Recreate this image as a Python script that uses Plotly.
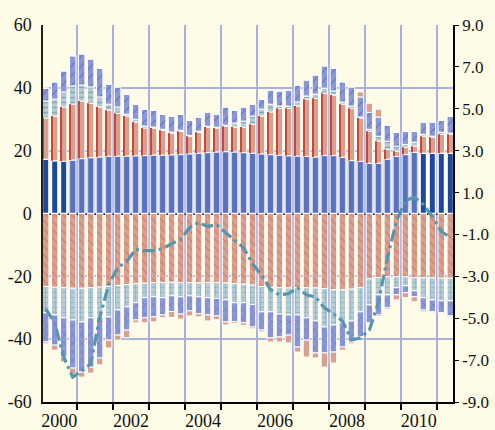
import plotly.graph_objects as go

# quarterly categories, 2000Q1 .. 2011Q2
quarters = [f"{y}Q{q}" for y in range(2000, 2012) for q in range(1, 5)][:46]
year_labels = ["2000", "2002", "2004", "2006", "2008", "2010"]
left_vals = [60, 40, 20, 0, -20, -40, -60]
left_text = ["60", "40", "20", "0", "-20", "-40", "-60"]
right_vals = [9, 7, 5, 3, 1, -1, -3, -5, -7, -9]
right_text = ["9.0", "7.0", "5.0", "3.0", "1.0", "-1.0", "-3.0", "-5.0", "-7.0", "-9.0"]

# positive contributions (left axis)
pos_blue = [17.3, 16.8, 16.6, 17.0, 17.5, 17.8, 18.0, 18.2, 18.3, 18.3, 18.4, 18.5,
            18.6, 18.6, 18.7, 18.8, 19.0, 19.2, 19.4, 19.6, 19.7, 19.6, 19.4, 19.2,
            19.0, 18.8, 18.6, 18.4, 18.3, 18.2, 18.0, 18.5, 18.5, 17.9, 16.9, 16.6,
            16.0, 16.0, 17.3, 18.2, 18.8, 19.5, 19.2, 19.2, 19.2, 19.2]
pos_salmon = [13.1, 14.2, 17.3, 17.8, 18.3, 17.3, 15.9, 14.7, 13.6, 12.7, 10.7, 8.7,
              8.6, 7.9, 6.9, 7.4, 5.6, 6.7, 8.1, 7.6, 8.1, 7.9, 8.1, 9.2,
              12.0, 13.5, 14.9, 15.1, 15.9, 18.2, 18.7, 19.8, 19.2, 16.9, 16.6, 13.8,
              10.2, 7.0, 3.1, 1.6, 2.3, 1.9, 5.4, 5.1, 6.0, 6.0]
pos_teal = [5.4, 5.4, 4.8, 5.8, 5.1, 5.2, 3.2, 1.9, 2.0, 0.6, 0.9, 0.6,
            0.3, 0.3, 0.3, 0.3, 0.3, 0.3, 0.3, 0.3, 0.3, 1.3, 1.9, 2.6,
            2.2, 2.5, 0.7, 0.7, 1.3, 1.0, 1.3, 1.6, 1.3, 0.7, 0.7, 0.3,
            0.6, 1.6, 2.6, 1.6, 0.9, 1.3, 0.6, 0.3, 0.7, 0.4]
pos_lav = [4.1, 5.5, 6.7, 9.6, 9.9, 8.9, 9.2, 6.4, 6.4, 6.4, 4.8, 5.4,
           5.4, 4.8, 5.1, 5.1, 4.8, 4.5, 4.5, 4.1, 5.8, 4.1, 4.5, 3.8,
           3.2, 4.5, 4.8, 5.1, 5.4, 5.1, 6.1, 7.1, 7.3, 6.4, 6.1, 6.4,
           5.4, 6.1, 5.1, 4.5, 4.2, 3.5, 3.9, 4.5, 3.8, 5.4]
pos_extra = [0, 0, 0, 0, 0, 0, 0, 0, 0, 0, 0, 0,
             0, 0, 0, 0, 0, 0, 0, 0, 0, 0, 0, 0,
             0, 0, 0, 0, 0, 0, 0, 0, 0, 0, 0, 1.6,
             2.9, 2.5, 0, 0, 0, 0, 0, 0, 0, 0]

# negative contributions (left axis)
neg_salmon = [-23.3, -23.5, -23.6, -23.8, -23.8, -23.6, -23.4, -23.2, -22.9, -22.6, -22.4, -22.2,
              -22.0, -22.0, -21.9, -22.0, -22.0, -22.1, -22.0, -22.0, -22.1, -22.3, -22.5, -22.8,
              -23.3, -23.5, -23.6, -23.7, -23.6, -23.6, -23.7, -23.9, -24.3, -24.3, -24.1, -23.6,
              -20.8, -20.4, -20.2, -20.2, -20.2, -20.4, -20.5, -20.5, -20.6, -20.6]
neg_teal = [-8.3, -8.8, -9.6, -10.1, -10.7, -9.6, -9.5, -9.7, -7.8, -7.1, -6.0, -4.6,
            -4.5, -4.8, -4.3, -4.5, -4.2, -4.4, -4.8, -5.0, -5.4, -6.1, -5.9, -6.2,
            -8.0, -7.8, -8.4, -8.6, -8.7, -9.6, -10.5, -12.2, -11.2, -10.5, -10.1, -7.7,
            -8.3, -5.5, -5.7, -3.4, -2.8, -4.2, -6.3, -7.0, -7.2, -7.2]
neg_lav = [-9.3, -9.6, -12.5, -15.3, -16.0, -15.7, -13.1, -7.4, -8.0, -7.4, -5.5, -6.4,
           -6.4, -5.5, -5.0, -5.5, -4.8, -5.4, -5.5, -5.6, -7.0, -6.1, -6.4, -7.1,
           -5.8, -8.3, -7.3, -6.4, -10.2, -7.1, -10.2, -8.3, -8.6, -7.7, -6.7, -8.0,
           -5.7, -6.4, -4.1, -2.3, -2.2, -1.9, -3.9, -3.8, -3.8, -4.8]
neg_extra = [-0.6, -1.6, -1.6, -1.9, -1.6, -1.9, -2.2, -2.5, -1.6, -2.5, -0.9, -1.6,
             -1.6, -0.9, -1.9, -1.6, -1.6, -1.0, -1.9, -1.2, -1.0, -0.5, -0.8, -0.6,
             -0.6, -1.3, -1.6, -2.5, -1.6, -5.4, -1.6, -4.5, -3.5, -1.0, -0.6, -0.3,
             -0.3, -0.5, -0.5, -1.6, -1.6, -1.6, -0.6, -0.3, -0.3, -0.3]

# dash-dot line (right axis)
line_vals = [-4.55, -5.22, -6.85, -7.81, -7.52, -7.19, -4.98, -3.40, -2.59, -2.30, -1.72, -1.77,
             -1.77, -1.68, -1.44, -1.25, -0.67, -0.43, -0.62, -0.53, -0.91, -1.25, -1.63, -2.40,
             -2.92, -3.64, -3.88, -3.83, -3.55, -3.88, -3.98, -4.50, -4.79, -5.13, -6.04, -5.94,
             -5.56, -4.26, -2.11, -0.38, 0.62, 0.77, 0.43, -0.14, -0.86, -1.15]

BG = "#FEFCE6"
GRID = "#A9B0DC"
BLUE = "#1C48A2"
BLUR = "#5A72BD"
SALMON = "#D9A18D"
RED = "#C4493A"
TEAL = "#B6CBD4"
TEAL_FG = "#4A8CA0"
LAV = "#8C98D6"
LAV_FG = "#2C4EB8"
LINE = "#5796AB"

x = list(range(len(quarters)))
n = len(x)
blue_colors = [BLUE if (i < 3 or i > 41) else BLUR for i in x]
blue_lines = ["white" if (i < 3 or i > 41) else "#CBD3F0" for i in x]
white = dict(color="white", width=1)

fig = go.Figure()

fig.add_trace(go.Bar(x=x, y=pos_blue, marker=dict(color=blue_colors,
                     line=dict(color=blue_lines, width=1.5))))
fig.add_trace(go.Bar(x=x, y=pos_salmon, marker=dict(color=SALMON, line=white)))
fig.add_trace(go.Bar(x=x, y=pos_teal, marker=dict(
    color=TEAL, line=white,
    pattern=dict(shape="-", fgcolor=TEAL_FG, size=5, solidity=0.3, fillmode="overlay"))))
fig.add_trace(go.Bar(x=x, y=pos_lav, marker=dict(
    color=LAV, line=white,
    pattern=dict(shape="/", fgcolor=LAV_FG, size=7, solidity=0.15, fillmode="overlay"))))
fig.add_trace(go.Bar(x=x, y=pos_extra, marker=dict(color=SALMON, line=white)))

fig.add_trace(go.Bar(x=x, y=neg_salmon, marker=dict(
    color=SALMON, line=white,
    pattern=dict(shape="\\", fgcolor="#D2574C", size=6, solidity=0.2, fillmode="overlay"))))
fig.add_trace(go.Bar(x=x, y=neg_teal, marker=dict(
    color=TEAL, line=white,
    pattern=dict(shape="+", fgcolor=TEAL_FG, size=5, solidity=0.2, fillmode="overlay"))))
fig.add_trace(go.Bar(x=x, y=neg_lav, marker=dict(
    color=LAV, line=white,
    pattern=dict(shape="x", fgcolor=LAV_FG, size=6, solidity=0.15, fillmode="overlay"))))
fig.add_trace(go.Bar(x=x, y=neg_extra, marker=dict(color=SALMON, line=white)))

# thin red edge on the positive salmon bars (own base -> drawn as overlay)
fig.add_trace(go.Bar(x=x, y=pos_salmon, base=pos_blue, width=0.13, offset=-0.33,
                     marker=dict(color=RED, line=dict(width=0))))

fig.add_trace(go.Scatter(x=x, y=line_vals, xaxis="x2", yaxis="y2", mode="lines",
                         line=dict(color=LINE, width=3.2, dash="12px,4px,3px,4px")))

boundaries = [3.5 + 4 * k for k in range(11)]
label_pos = [1.5 + 8 * k for k in range(len(year_labels))]
xr = [-0.3, n - 0.7]

fig.update_layout(
    width=495, height=430,
    margin=dict(l=43, r=42, t=25, b=28, autoexpand=False),
    paper_bgcolor=BG, plot_bgcolor=BG,
    barmode="relative", bargap=0.28, showlegend=False,
    font=dict(family="Liberation Serif", size=18, color="#111"),
    xaxis=dict(range=xr, tickvals=boundaries, ticktext=[""] * len(boundaries),
               ticks="outside", ticklen=6, tickcolor="black", tickwidth=1.5,
               showline=True, linecolor="black", linewidth=1.5, automargin=False,
               showgrid=True, gridcolor=GRID, gridwidth=2, zeroline=False),
    xaxis2=dict(overlaying="x", anchor="y", side="bottom", range=xr,
                tickvals=label_pos, ticktext=year_labels, ticks="", automargin=False,
                showgrid=False, showline=False, zeroline=False, ticklabelstandoff=6),
    yaxis=dict(range=[-60, 60], tickvals=left_vals, ticktext=left_text,
               showgrid=True, gridcolor=GRID, gridwidth=2, automargin=False,
               zeroline=True, zerolinecolor="black", zerolinewidth=1.5,
               showline=True, linecolor="#222", linewidth=1.5, ticks="",
               ticklabelstandoff=6),
    yaxis2=dict(overlaying="y", side="right", anchor="x2", range=[-9, 9],
                tickvals=right_vals, ticktext=right_text, automargin=False,
                tickfont=dict(size=17),
                showgrid=False, zeroline=False, showline=True, linecolor="black",
                linewidth=1.5, ticks="outside", ticklen=4, tickcolor="black"),
)

# drop the page's default body margin so the figure sits at the window corner
fig.write_html("out.html",
               config={"displayModeBar": False},
               post_script="document.body.style.margin='0';"
                           "document.body.style.background='#FEFCE6';")
